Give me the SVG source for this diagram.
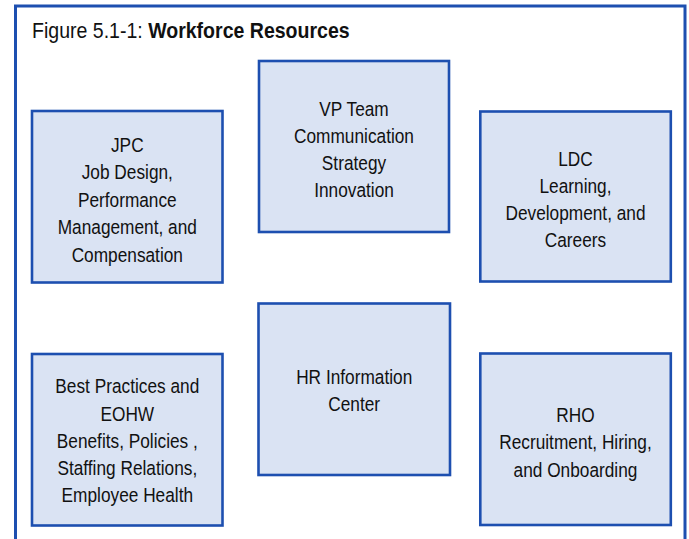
<svg xmlns="http://www.w3.org/2000/svg" width="689" height="539" viewBox="0 0 689 539">
<style>
.box{fill:#dae3f3;stroke:#1d4fb0;stroke-width:2.6}
.t{font-family:"Liberation Sans",Arial,sans-serif;font-size:19.5px;fill:#111;text-anchor:middle}
.title{font-family:"Liberation Sans",Arial,sans-serif;font-size:22px;fill:#111}
</style>
<rect x="0" y="0" width="689" height="539" fill="#ffffff"/>
<rect x="15.5" y="6" width="669.5" height="560" fill="none" stroke="#1d4fb0" stroke-width="3"/>
<g id="title" transform="translate(32 38.3) scale(0.888 1)">
<text class="title" x="0" y="0">Figure 5.1-1: <tspan font-weight="bold">Workforce Resources</tspan></text>
</g>
<g id="connectors"></g>
<g id="vp">
<rect class="box" x="259" y="61" width="190" height="171"/>
<g transform="translate(354 0) scale(0.886 1)">
<text class="t" x="0" y="115.7">VP Team</text>
<text class="t" x="0" y="142.7">Communication</text>
<text class="t" x="0" y="170">Strategy</text>
<text class="t" x="0" y="197.3">Innovation</text>
</g>
</g>
<g id="jpc">
<rect class="box" x="32" y="111" width="190.5" height="171.5"/>
<g transform="translate(127.3 0) scale(0.886 1)">
<text class="t" x="0" y="151.7">JPC</text>
<text class="t" x="0" y="179.2">Job Design,</text>
<text class="t" x="0" y="206.7">Performance</text>
<text class="t" x="0" y="234.3">Management, and</text>
<text class="t" x="0" y="261.7">Compensation</text>
</g>
</g>
<g id="ldc">
<rect class="box" x="480.3" y="111.5" width="190.5" height="170"/>
<g transform="translate(575.5 0) scale(0.886 1)">
<text class="t" x="0" y="165.7">LDC</text>
<text class="t" x="0" y="193">Learning,</text>
<text class="t" x="0" y="220.5">Development, and</text>
<text class="t" x="0" y="247.5">Careers</text>
</g>
</g>
<g id="best-practices">
<rect class="box" x="32" y="354" width="190.5" height="171.5"/>
<g transform="translate(127.3 0) scale(0.886 1)">
<text class="t" x="0" y="393.3">Best Practices and</text>
<text class="t" x="0" y="420.7">EOHW</text>
<text class="t" x="0" y="448">Benefits, Policies ,</text>
<text class="t" x="0" y="475">Staffing Relations,</text>
<text class="t" x="0" y="501.7">Employee Health</text>
</g>
</g>
<g id="hr">
<rect class="box" x="258.5" y="303.5" width="191.5" height="171.5"/>
<g transform="translate(354.2 0) scale(0.886 1)">
<text class="t" x="0" y="384">HR Information</text>
<text class="t" x="0" y="410.7">Center</text>
</g>
</g>
<g id="rho">
<rect class="box" x="480.3" y="353.5" width="190.5" height="171.5"/>
<g transform="translate(575.5 0) scale(0.886 1)">
<text class="t" x="0" y="422.3">RHO</text>
<text class="t" x="0" y="449.3">Recruitment, Hiring,</text>
<text class="t" x="0" y="476.7">and Onboarding</text>
</g>
</g>
</svg>
